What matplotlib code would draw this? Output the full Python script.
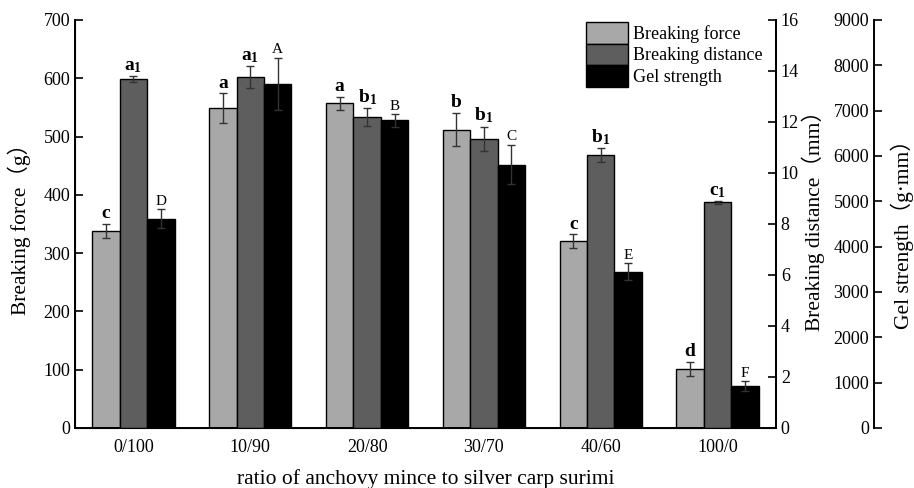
import matplotlib
matplotlib.use("Agg")
import matplotlib.pyplot as plt
import numpy as np

plt.rcParams['font.family'] = ['Liberation Serif', 'Noto Sans CJK SC', 'DejaVu Sans']
plt.rcParams['mathtext.fontset'] = 'custom'
plt.rcParams['mathtext.rm'] = 'Liberation Serif'
plt.rcParams['mathtext.bf'] = 'Liberation Serif:bold'
plt.rcParams['mathtext.it'] = 'Liberation Serif:italic'

categories = ['0/100', '10/90', '20/80', '30/70', '40/60', '100/0']
force = [338, 549, 557, 512, 320, 102]
force_err = [12, 25, 11, 29, 12, 12]
force_letters = ['c', 'a', 'a', 'b', 'c', 'd']
distance = [13.68, 13.76, 12.19, 11.34, 10.70, 8.85]
distance_err = [0.12, 0.43, 0.36, 0.48, 0.27, 0.06]
distance_letters = ['a', 'a', 'b', 'b', 'b', 'c']
gel = [4616, 7586, 6789, 5811, 3446, 926]
gel_err = [206, 580, 140, 437, 190, 100]
gel_letters = ['D', 'A', 'B', 'C', 'E', 'F']

c_force = '#a8a8a8'
c_dist = '#5e5e5e'
c_gel = '#000000'

fig = plt.figure(figsize=(9.14, 4.88), dpi=100)
L, R, B, T = 75/914, 776/914, 1-428/488, 1-20/488
ax = fig.add_axes([L, B, R-L, T-B])
ax2 = ax.twinx()
ax3 = ax.twinx()

x = np.arange(len(categories))
w = 0.235
ekw = dict(ecolor='#333333', elinewidth=1.0, capsize=3, capthick=1.0)

b1 = ax.bar(x - w, force, w, color=c_force, edgecolor='black', linewidth=1.0,
            yerr=force_err, error_kw=ekw, label='Breaking force')
b2 = ax2.bar(x, distance, w, color=c_dist, edgecolor='black', linewidth=1.0,
             yerr=distance_err, error_kw=ekw, label='Breaking distance')
b3 = ax3.bar(x + w, gel, w, color=c_gel, edgecolor='black', linewidth=1.0,
             yerr=gel_err, error_kw=ekw, label='Gel strength')

ax.set_xlim(-0.5, 5.5)
ax.set_ylim(0, 700)
ax2.set_ylim(0, 16)
ax3.set_ylim(0, 9000)

fs = 13
lfs = 15.5
# main axis
ax.set_yticks(np.arange(0, 701, 100))
ax.set_xticks(x)
ax.set_xticklabels(categories, fontsize=fs)
ax.tick_params(axis='y', direction='in', length=6, width=1.2, labelsize=fs)
ax.tick_params(axis='x', direction='in', length=6, width=1.2, pad=8)
ax.spines['top'].set_visible(False)
for s in ['left', 'bottom', 'right']:
    ax.spines[s].set_linewidth(1.4)
ax.set_ylabel('Breaking force（g）', fontsize=lfs, labelpad=9)
ax.set_xlabel('ratio of anchovy mince to silver carp surimi', fontsize=lfs, labelpad=9)

# second axis
ax2.set_yticks(np.arange(0, 17, 2))
ax2.tick_params(axis='y', direction='in', length=6, width=1.2, labelsize=fs)
ax2.spines['top'].set_visible(False)
ax2.spines['right'].set_linewidth(1.4)
ax2.set_ylabel('Breaking distance（mm）', fontsize=lfs, labelpad=2)
ax2.yaxis.set_label_coords(1.036, 0.52)

# third axis
ax3.spines['top'].set_visible(False)
ax3.spines['right'].set_visible(False)
ax3.spines['bottom'].set_visible(False)
ax3.spines['left'].set_visible(True)
ax3.spines['left'].set_position(('axes', (874-75)/701))
ax3.spines['left'].set_linewidth(1.4)
ax3.yaxis.set_ticks_position('left')
ax3.set_yticks(np.arange(0, 9001, 1000))
ax3.tick_params(axis='y', direction='in', length=6, width=1.2, labelsize=fs,
                left=True, labelleft=True, right=False, labelright=False)
fig.text(902/914, 0.53, 'Gel strength（g·mm）', rotation=90, fontsize=lfs,
         ha='center', va='center')

# letters
for i in range(len(categories)):
    ax.text(x[i] - w, force[i] + force_err[i] + 3, force_letters[i],
            ha='center', va='bottom', fontsize=14, fontweight='bold')
    ax2.text(x[i], distance[i] + distance_err[i] + 0.05,
             r'$\mathbf{%s}_{\mathbf{1}}$' % distance_letters[i],
             ha='center', va='bottom', fontsize=14)
    ax3.text(x[i] + w, gel[i] + gel_err[i] + 30, gel_letters[i],
             ha='center', va='bottom', fontsize=11)

handles = [b1, b2, b3]
leg = ax3.legend(handles, [h.get_label() for h in handles],
                 loc='upper left', bbox_to_anchor=((579-75)/701, 1.012),
                 frameon=False, fontsize=13, handlelength=2.3, handleheight=1.45,
                 handletextpad=0.3, labelspacing=0.0, borderaxespad=0.0)

fig.savefig('out.png', dpi=100)
